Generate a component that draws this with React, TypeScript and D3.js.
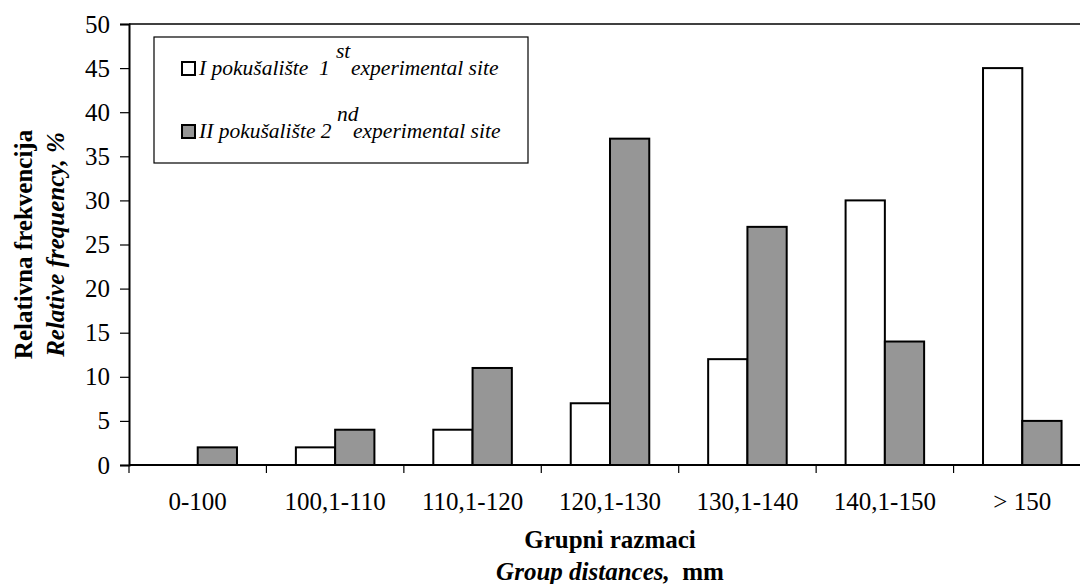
import React, { useRef, useEffect } from 'react';
import * as d3 from 'd3';

const categories = ['0-100', '100,1-110', '110,1-120', '120,1-130', '130,1-140', '140,1-150', '> 150'];
const site1Values = [0, 2, 4, 7, 12, 30, 45];
const site2Values = [2, 4, 11, 37, 27, 14, 5];
const yTicks = [0, 5, 10, 15, 20, 25, 30, 35, 40, 45, 50];

const seriesKeys = ['site1', 'site2'];
const seriesFill: Record<string, string> = { site1: '#ffffff', site2: '#969696' };

export default function App() {
	const svgWidth = 1080;
	const svgHeight = 584;
	const ref = useRef<SVGSVGElement>(null);

	useEffect(() => {
		if (!ref.current) return;
		const margin = { top: 24, left: 129, bottom: 119, right: -11 };
		const width = svgWidth - margin.left - margin.right;
		const height = svgHeight - margin.top - margin.bottom;
		const font = 'Liberation Serif';

		const root = d3.select(ref.current);
		root.selectAll('*').remove();

		const svg = root.append('g').attr('transform', `translate(${margin.left},${margin.top})`);

		const x = d3.scaleBand<string>().domain(categories).range([0, width]).paddingInner(0).paddingOuter(0);
		const xInner = d3.scaleBand<string>().domain(seriesKeys).range([0, x.bandwidth()]).paddingInner(0).paddingOuter(0.75);
		const y = d3.scaleLinear().domain([0, 50]).range([height, 0]);

		// plot frame (top border; right border sits outside the picture)
		svg.append('line').attr('x1', 0).attr('x2', width).attr('y1', 0).attr('y2', 0)
			.attr('stroke', '#000').attr('stroke-width', 1.6);
		svg.append('line').attr('x1', width).attr('x2', width).attr('y1', 0).attr('y2', height)
			.attr('stroke', '#000').attr('stroke-width', 1.6);

		const rows = categories.map((c, i) => ({ cat: c, site1: site1Values[i], site2: site2Values[i] }));

		/* bars */
		const groups = svg.selectAll('g.cat').data(rows).enter().append('g')
			.attr('class', 'cat')
			.attr('transform', (d) => `translate(${x(d.cat)},0)`);
		groups.selectAll('rect')
			.data((d) => seriesKeys.map((k) => ({ key: k, value: (d as any)[k] as number })))
			.enter().append('rect')
			.filter((d) => d.value > 0)
			.attr('x', (d) => xInner(d.key) as number)
			.attr('width', xInner.bandwidth())
			.attr('y', (d) => y(d.value))
			.attr('height', (d) => y(0) - y(d.value))
			.attr('fill', (d) => seriesFill[d.key])
			.attr('stroke', '#000')
			.attr('stroke-width', 2);

		// y axis
		const yAxis = d3.axisLeft(y).tickValues(yTicks).tickSize(9).tickPadding(10).tickFormat(d3.format('d'));
		const gy = svg.append('g').call(yAxis);
		gy.attr('font-family', null).attr('font-size', null);
		gy.select('.domain').attr('stroke-width', 2);
		gy.selectAll('.tick line').attr('stroke-width', 1.2);
		gy.selectAll('text').style('font-family', font).style('font-size', '25px').attr('fill', '#000');

		// x axis - ticks at band edges
		const gx = svg.append('g').attr('transform', `translate(0,${height})`);
		gx.append('line').attr('x1', 0).attr('x2', width).attr('stroke', '#000').attr('stroke-width', 2);
		const edges = d3.range(categories.length + 1).map((i) => i * x.step());
		gx.selectAll('line.tk').data(edges).enter().append('line')
			.attr('class', 'tk')
			.attr('x1', (d) => d).attr('x2', (d) => d)
			.attr('y1', 0).attr('y2', 8)
			.attr('stroke', '#000').attr('stroke-width', 1.2);
		gx.selectAll('text').data(categories).enter().append('text')
			.attr('x', (d) => (x(d) as number) + x.bandwidth() / 2)
			.attr('y', 45)
			.attr('text-anchor', 'middle')
			.style('font-family', font).style('font-size', '25px')
			.text((d) => d);

		// x axis titles
		svg.append('text')
			.attr('x', width / 2).attr('y', height + 83)
			.attr('text-anchor', 'middle')
			.style('font-family', font).style('font-size', '25px').style('font-weight', 'bold')
			.text('Grupni razmaci');
		const t2 = svg.append('text')
			.attr('x', width / 2).attr('y', height + 115)
			.attr('text-anchor', 'middle')
			.style('font-family', font).style('font-size', '25px').style('font-weight', 'bold');
		t2.append('tspan').style('font-style', 'italic').text('Group distances,');
		t2.append('tspan').text('\u00a0 mm');

		// y axis titles
		svg.append('text')
			.attr('transform', 'rotate(-90)')
			.attr('x', -height / 2).attr('y', -margin.left + 32)
			.attr('text-anchor', 'middle')
			.style('font-family', font).style('font-size', '25px').style('font-weight', 'bold')
			.text('Relativna frekvencija');
		svg.append('text')
			.attr('transform', 'rotate(-90)')
			.attr('x', -height / 2).attr('y', -margin.left + 64)
			.attr('text-anchor', 'middle')
			.style('font-family', font).style('font-size', '25px').style('font-weight', 'bold').style('font-style', 'italic')
			.text('Relative frequency, %');

		/* legend */
		const legend = root.append('g').attr('transform', 'translate(154,37)');
		legend.append('rect').attr('width', 374).attr('height', 126)
			.attr('fill', '#fff').attr('stroke', '#000').attr('stroke-width', 1.2);
		const entries = [
			{ key: 'site1', main: 'I pokušalište\u00a0 1', sup: 'st', supX: 182, restX: 197, base: 38 },
			{ key: 'site2', main: 'II pokušalište 2', sup: 'nd', supX: 183, restX: 199, base: 101 },
		];
		entries.forEach((e) => {
			legend.append('rect').attr('x', 28).attr('y', e.base - 13).attr('width', 13).attr('height', 13)
				.attr('fill', seriesFill[e.key]).attr('stroke', '#000').attr('stroke-width', 2);
			legend.append('text').attr('x', 45).attr('y', e.base)
				.style('font-family', font).style('font-size', '21.5px').style('font-style', 'italic')
				.text(e.main);
			legend.append('text').attr('x', e.supX).attr('y', e.base - 17)
				.style('font-family', font).style('font-size', '21.5px').style('font-style', 'italic')
				.text(e.sup);
			legend.append('text').attr('x', e.restX).attr('y', e.base)
				.style('font-family', font).style('font-size', '21.5px').style('font-style', 'italic')
				.text('experimental site');
		});
	}, []);

	return (
		<svg
			ref={ref}
			width={svgWidth}
			height={svgHeight}
			fontFamily="Liberation Serif"
			style={{ position: 'absolute', left: 0, top: 0, background: '#fff', overflow: 'hidden' }}
		/>
	);
}
